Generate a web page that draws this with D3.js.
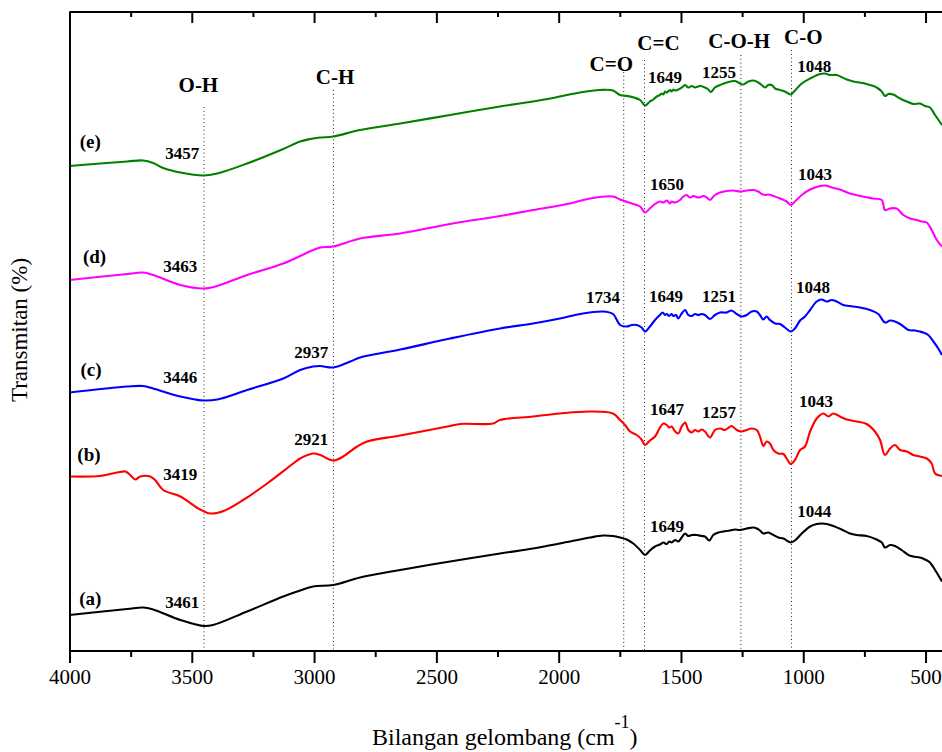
<!DOCTYPE html>
<html>
<head>
<meta charset="utf-8">
<script src="https://cdn.jsdelivr.net/npm/d3@7"></script>
<style>
  body { margin: 0; background: #fff; }
  svg { display: block; }
  text { font-family: "Liberation Serif", "Times New Roman", serif; fill: #000; }
</style>
</head>
<body>
<svg id="chart" width="942" height="752"></svg>
<script>
// FTIR spectra, stacked with vertical offsets: [wavenumber (cm-1), transmittance (offset units)]
const spectrumA = [
  [4000,7.2],[3764,8.4],[3699,8.7],[3658,8.3],[3547,6.2],[3453,5.0],[3413,5.2],[3274,7.9],
  [3126,10.9],[3057,12.1],[3004,12.9],[2922,13.2],[2812,14.7],[2648,16.2],[2444,17.9],
  [2240,19.5],[2105,20.5],[1995,21.5],[1872,22.7],[1819,23.1],[1778,23.0],
  [1749,22.7],[1722,22.3],[1695,21.5],[1667,20.2],[1647,19.2],[1627,20.1],[1606,20.9],
  [1586,21.3],[1572,21.7],[1558,21.4],[1548,21.9],[1538,21.7],[1524,22.2],[1511,21.9],
  [1497,22.7],[1483,23.5],[1470,23.0],[1456,23.2],[1436,23.2],[1415,23.0],[1402,22.9],
  [1384,22.1],[1368,23.2],[1347,23.7],[1327,23.9],[1299,24.1],[1279,24.3],[1259,24.2],
  [1231,24.5],[1204,24.7],[1190,24.5],[1177,24.1],[1163,23.5],[1143,23.7],[1122,23.2],
  [1102,22.7],[1081,22.5],[1061,21.9],[1051,21.7],[1034,22.1],[1006,23.5],[972,24.9],
  [945,25.4],[925,25.5],[904,25.4],[877,25.0],[843,24.3],[809,23.5],[782,23.2],
  [741,23.0],[700,22.3],[679,21.7],[666,20.7],[645,21.2],[625,21.0],[598,20.2],
  [570,19.2],[550,18.9],[523,18.7],[502,18.3],[482,17.7],[461,16.2],[433,13.9]
];
const spectrumB = [
  [4000,34.9],[3875,35.0],[3805,35.7],[3772,35.9],[3752,35.2],[3731,34.3],[3711,34.9],
  [3670,34.9],[3650,34.2],[3617,32.2],[3547,30.9],[3466,28.3],[3425,27.5],[3370,28.0],
  [3290,30.2],[3192,33.5],[3085,37.5],[3057,38.5],[3004,39.5],[2975,39.2],[2922,38.1],
  [2881,38.9],[2824,40.9],[2783,41.9],[2648,43.1],[2444,45.0],[2403,45.4],[2268,45.5],
  [2240,46.2],[2105,46.9],[1995,47.5],[1872,47.9],[1778,47.5],
  [1749,46.2],[1729,45.2],[1708,43.9],[1681,43.2],[1661,42.3],[1647,41.2],[1627,42.1],
  [1606,42.9],[1588,44.5],[1572,45.5],[1558,45.2],[1548,44.7],[1538,44.9],[1524,43.9],
  [1511,43.5],[1497,44.9],[1483,45.7],[1470,44.2],[1456,43.7],[1443,44.2],[1429,43.9],
  [1415,44.3],[1402,43.9],[1381,42.7],[1361,44.2],[1340,44.5],[1320,44.2],[1293,45.0],
  [1272,44.2],[1252,43.9],[1231,44.2],[1211,44.5],[1190,44.2],[1177,42.9],[1163,41.0],
  [1150,41.9],[1136,41.5],[1122,40.2],[1102,39.5],[1081,39.4],[1068,38.5],[1051,37.4],
  [1034,38.2],[1013,40.2],[993,40.9],[972,43.9],[945,46.5],[918,47.5],[897,46.9],
  [877,47.5],[850,46.9],[822,46.3],[782,45.9],[741,45.4],[707,43.9],[686,42.2],
  [666,39.2],[645,40.5],[625,41.2],[604,40.2],[577,39.9],[550,39.2],[523,38.9],
  [495,38.5],[475,37.5],[461,35.5],[433,35.0]
];
const spectrumC = [
  [4000,51.7],[3764,52.9],[3699,53.0],[3658,52.5],[3547,50.9],[3453,50.1],[3396,50.3],
  [3274,52.2],[3126,54.5],[3057,56.2],[3004,56.9],[2975,57.0],[2922,56.7],[2852,57.9],
  [2812,58.7],[2648,60.3],[2444,62.5],[2240,64.5],[2105,65.5],[1995,66.5],[1913,67.4],
  [1819,67.9],[1778,67.4],
  [1749,65.2],[1722,64.9],[1701,65.2],[1681,65.2],[1661,64.7],[1647,63.9],[1627,64.9],
  [1606,66.2],[1586,67.2],[1575,67.7],[1565,67.2],[1558,67.4],[1548,67.0],[1538,67.4],
  [1531,67.0],[1520,67.2],[1511,66.5],[1497,67.5],[1483,68.2],[1470,67.2],[1456,67.0],
  [1443,67.4],[1429,67.2],[1415,67.4],[1402,67.2],[1381,66.4],[1361,67.2],[1340,67.7],
  [1313,67.7],[1293,68.1],[1272,67.4],[1252,66.9],[1231,67.2],[1211,67.9],[1190,67.9],
  [1177,67.2],[1163,66.3],[1150,66.9],[1136,66.2],[1115,65.5],[1095,65.4],[1075,64.7],
  [1051,63.9],[1034,64.5],[1013,66.1],[993,66.9],[972,68.2],[945,69.9],[925,70.3],
  [904,69.9],[884,70.2],[863,69.9],[836,69.2],[809,69.0],[768,68.7],[727,68.2],
  [693,67.4],[666,65.7],[645,66.1],[625,65.9],[598,65.2],[570,64.2],[543,64.1],
  [523,63.9],[509,63.7],[489,63.2],[468,61.9],[448,60.5],[433,59.2]
];
const spectrumD = [
  [4000,74.2],[3764,75.4],[3699,75.7],[3658,75.2],[3547,73.2],[3453,72.5],[3396,73.0],
  [3274,75.2],[3126,77.5],[3004,80.2],[2975,80.7],[2922,80.9],[2812,82.5],[2648,83.5],
  [2444,85.4],[2240,87.0],[2105,88.2],[1954,89.5],[1872,90.5],[1778,90.9],
  [1749,90.3],[1695,89.4],[1667,88.9],[1647,87.7],[1627,88.5],[1606,89.4],[1586,89.9],
  [1572,89.7],[1558,90.1],[1545,89.5],[1538,89.9],[1524,89.7],[1504,90.2],[1490,90.9],
  [1477,91.2],[1463,90.7],[1449,91.0],[1429,90.7],[1408,91.0],[1395,90.7],[1381,90.2],
  [1361,91.2],[1340,91.7],[1313,92.0],[1286,92.1],[1259,91.9],[1231,92.1],[1204,92.2],
  [1184,91.9],[1170,91.4],[1156,91.2],[1143,91.3],[1122,91.0],[1095,90.5],[1068,89.9],
  [1051,89.2],[1034,89.9],[1006,91.2],[972,92.3],[931,93.0],[911,93.1],[884,92.7],
  [850,92.3],[809,91.5],[768,91.0],[713,90.5],[679,90.2],[666,88.2],[645,88.5],
  [618,88.5],[591,87.2],[563,86.5],[536,86.2],[516,85.9],[495,85.7],[475,84.2],
  [454,82.2],[433,80.9]
];
const spectrumE = [
  [4000,97.0],[3764,97.9],[3699,98.1],[3658,97.6],[3617,96.6],[3547,95.7],[3453,95.1],
  [3396,95.5],[3274,97.5],[3126,100.4],[3057,101.9],[3016,102.4],[2975,102.7],[2922,102.9],
  [2812,104.2],[2648,105.5],[2444,107.2],[2240,108.9],[2105,109.9],[1995,110.9],
  [1913,111.7],[1831,112.2],[1778,112.1],
  [1749,111.2],[1708,110.9],[1667,110.2],[1647,109.1],[1627,109.9],[1613,110.3],
  [1599,110.9],[1586,111.2],[1579,111.5],[1572,111.3],[1565,111.9],[1558,111.7],
  [1545,112.2],[1538,111.9],[1531,112.3],[1524,112.1],[1511,112.3],[1497,112.7],
  [1483,113.2],[1470,112.7],[1456,113.0],[1443,112.7],[1422,113.0],[1402,112.7],
  [1388,112.3],[1378,111.8],[1361,112.7],[1340,113.2],[1313,113.7],[1279,114.0],
  [1259,113.5],[1245,113.3],[1224,113.9],[1204,114.1],[1184,113.7],[1170,113.2],
  [1156,112.7],[1143,113.2],[1129,113.2],[1115,112.5],[1095,112.2],[1075,111.9],
  [1061,111.5],[1051,111.3],[1034,112.1],[1006,113.5],[972,114.5],[931,115.4],
  [911,115.5],[891,115.2],[863,115.2],[822,114.3],[795,113.9],[741,113.4],[700,112.7],
  [679,111.9],[666,111.0],[652,111.4],[632,111.3],[604,110.5],[577,109.9],[550,109.4],
  [523,109.5],[502,109.0],[482,108.7],[461,107.2],[433,105.2]
];

const sampleNames = ["(a)", "(b)", "(c)", "(d)", "(e)"];
const sampleColors = ["#000000", "#ff0000", "#0000ff", "#ff00ff", "#008000"];
const spectra = [spectrumA, spectrumB, spectrumC, spectrumD, spectrumE];

// Functional-group bands marked with dotted guides
const bandNames = ["O-H", "C-H", "C=O", "C=C", "C-O-H", "C-O"];
const bandWavenumbers = [3450, 2921, 1734, 1649, 1255, 1048];

// Peak annotations per sample
const peakLabelsA = ["3461", "1649", "1044"];
const peakLabelsB = ["3419", "2921", "1647", "1257", "1043"];
const peakLabelsC = ["3446", "2937", "1734", "1649", "1251", "1048"];
const peakLabelsD = ["3463", "1650", "1043"];
const peakLabelsE = ["3457", "1649", "1255", "1048"];

const xTicks = [4000, 3500, 3000, 2500, 2000, 1500, 1000, 500];
const xMinorTicks = [3750, 3250, 2750, 2250, 1750, 1250, 750];

// ---- layout ----
const svg = d3.select("#chart");
const x = d3.scaleLinear().domain([4000, 400]).range([69.5, 950]);
const y = d3.scaleLinear().domain([0, 127.8]).range([651, 12]);

// annotation anchors: [wavenumber, value]
const bandGuideTop = [108.8, 112.2, 115.8, 118.2, 119.2, 120.2];
const bandLabelPos = [[3473,111.8],[2914,113.4],[1785,116.0],[1592,120.2],[1262,120.6],[1000,121.4]];
const sampleLabelPos = [[3960,9.3],[3968,38.1],[3955,55.0],[3945,77.6],[3958,100.6]];
const peakPos = [
  [[3539,8.6],[1557,23.8],[955,26.8]],
  [[3547,34.2],[3012,41.2],[1557,47.2],[1344,46.6],[948,48.8]],
  [[3547,53.6],[3012,58.6],[1819,69.6],[1561,69.8],[1344,69.8],[960,71.6]],
  [[3547,75.8],[1557,92.2],[952,94.2]],
  [[3539,98.4],[1565,113.6],[1344,114.6],[955,115.8]]
];
const peakLabels = [peakLabelsA, peakLabelsB, peakLabelsC, peakLabelsD, peakLabelsE];

// dotted band guides
svg.append("g").selectAll("line").data(bandWavenumbers).join("line")
  .attr("x1", d => x(d)).attr("x2", d => x(d))
  .attr("y1", (d, i) => y(bandGuideTop[i])).attr("y2", y(0))
  .attr("stroke", "#222").attr("stroke-width", 1)
  .attr("stroke-dasharray", "1,2.8");

// spectra
const line = d3.line().x(d => x(d[0])).y(d => y(d[1])).curve(d3.curveCatmullRom.alpha(0.5));
svg.append("g").selectAll("path").data(spectra).join("path")
  .attr("d", line)
  .attr("fill", "none")
  .attr("stroke", (d, i) => sampleColors[i])
  .attr("stroke-width", 2.1)
  .attr("stroke-linejoin", "round");

// band names
svg.append("g").selectAll("text").data(bandNames).join("text")
  .attr("x", (d, i) => x(bandLabelPos[i][0]))
  .attr("y", (d, i) => y(bandLabelPos[i][1]))
  .attr("text-anchor", "middle")
  .attr("font-weight", "bold").attr("font-size", 21)
  .text(d => d);

// sample letters
svg.append("g").selectAll("text").data(sampleNames).join("text")
  .attr("x", (d, i) => x(sampleLabelPos[i][0]))
  .attr("y", (d, i) => y(sampleLabelPos[i][1]))
  .attr("font-weight", "bold").attr("font-size", 19)
  .text(d => d);

// peak wavenumbers
peakLabels.forEach((labels, s) => {
  svg.append("g").selectAll("text").data(labels).join("text")
    .attr("x", (d, i) => x(peakPos[s][i][0]))
    .attr("y", (d, i) => y(peakPos[s][i][1]))
    .attr("text-anchor", "middle")
    .attr("font-weight", "bold").attr("font-size", 17)
    .text(d => d);
});

// axes: labelled bottom axis, mirrored top axis with inward ticks, bare left spine
const axisBottomG = svg.append("g").attr("transform", `translate(0,${y(0)})`)
  .call(d3.axisBottom(x).tickValues(xTicks).tickSize(12).tickPadding(6).tickFormat(d3.format("d")));
const axisBottomMinorG = svg.append("g").attr("transform", `translate(0,${y(0)})`)
  .call(d3.axisBottom(x).tickValues(xMinorTicks).tickSize(6).tickFormat(""));
const axisTopG = svg.append("g").attr("transform", `translate(0,${y(127.8)})`)
  .call(d3.axisBottom(x).tickValues(xTicks).tickSize(11).tickFormat(""));
const axisTopMinorG = svg.append("g").attr("transform", `translate(0,${y(127.8)})`)
  .call(d3.axisBottom(x).tickValues(xMinorTicks).tickSize(5).tickFormat(""));
const axisLeftG = svg.append("g").attr("transform", `translate(${x(4000)},0)`)
  .call(d3.axisLeft(y).tickValues([]).tickSizeOuter(0));

[axisBottomG, axisBottomMinorG, axisTopG, axisTopMinorG, axisLeftG].forEach(g => {
  g.selectAll("path.domain").attr("stroke", "#000").attr("stroke-width", 2);
  g.selectAll(".tick line").attr("stroke", "#000").attr("stroke-width", 2);
});
[axisBottomG, axisBottomMinorG, axisTopG, axisTopMinorG].forEach(g =>
  g.select("path.domain").attr("d", `M${x(4000)},0H${x(400)}`));
axisBottomG.selectAll(".tick text")
  .style("font-family", "'Liberation Serif', 'Times New Roman', serif")
  .style("font-size", "21px").style("fill", "#000");

// axis titles
const xTitle = svg.append("text").attr("x", 372).attr("y", 745).style("font-size", "24px");
xTitle.append("tspan").text("Bilangan gelombang (cm");
xTitle.append("tspan").attr("dy", -17).style("font-size", "18px").text("-1");
xTitle.append("tspan").attr("dy", 17).text(")");

svg.append("text")
  .attr("transform", "translate(27,330) rotate(-90)")
  .attr("text-anchor", "middle").style("font-size", "23px")
  .text("Transmitan (%)");
</script>
</body>
</html>
